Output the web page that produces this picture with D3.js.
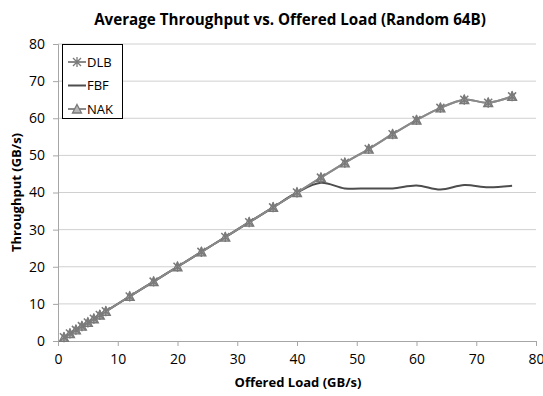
<!DOCTYPE html>
<html>
<head>
<meta charset="utf-8">
<script src="https://cdn.jsdelivr.net/npm/d3@7"></script>
<style>
  body { margin: 0; background: #fff; }
  text { font-family: "Open Sans", sans-serif; }
</style>
</head>
<body>
<script>
// offered load (x) for every sample
const load = [1, 2, 3, 4, 5, 6, 7, 8, 12, 16, 20, 24, 28, 32, 36, 40, 44, 48, 52, 56, 60, 64, 68, 72, 76];
const dlb = [1, 2, 3, 4, 5, 6, 7, 8, 12, 16, 20, 24, 28, 32, 36, 40, 44, 48, 51.7, 55.7, 59.5, 62.8, 65, 64.2, 65.9];
const fbf = [1, 2, 3, 4, 5, 6, 7, 8, 12, 16, 20, 24, 28, 32, 36, 40, 42.6, 41.1, 41.1, 41.1, 41.9, 40.8, 42, 41.4, 41.8];
const nak = [1, 2, 3, 4, 5, 6, 7, 8, 12, 16, 20, 24, 28, 32, 36, 40, 44, 48, 51.7, 55.7, 59.5, 62.8, 65, 64.2, 65.9];
const xTicks = [0, 10, 20, 30, 40, 50, 60, 70, 80];
const yTicks = [0, 10, 20, 30, 40, 50, 60, 70, 80];

const width = 543;
const height = 396;
const margin = { left: 58, right: 7, top: 44, bottom: 55 };

const svg = d3.select("body").append("svg").attr("width", width).attr("height", height);

const x = d3.scaleLinear().domain([0, 80]).range([margin.left, width - margin.right]);
const y = d3.scaleLinear().domain([0, 80]).range([height - margin.bottom, margin.top]);

// grid
svg.append("g")
  .selectAll("line")
  .data(yTicks.filter(d => d > 0))
  .enter()
  .append("line")
  .attr("x1", x(0)).attr("x2", x(80))
  .attr("y1", d => y(d)).attr("y2", d => y(d))
  .attr("stroke", "#d0d0d0").attr("stroke-width", 1);

// axes
const axisx = d3.axisBottom(x).tickValues(xTicks).tickSize(5).tickPadding(8);
const axisy = d3.axisLeft(y).tickValues(yTicks).tickSize(5).tickPadding(8);

const gx = svg.append("g").attr("transform", "translate(0," + y(0) + ")").call(axisx);
const gy = svg.append("g").attr("transform", "translate(" + x(0) + ",0)").call(axisy);
[gx, gy].forEach(g => {
  g.select(".domain").attr("stroke", "#a6a6a6");
  g.selectAll(".tick line").attr("stroke", "#a6a6a6");
  g.selectAll(".tick text").attr("fill", "#000").style("font-size", "14px").style("font-family", "'Open Sans', sans-serif");
});

// lines (Excel smoothed lines)
const line = d3.line()
  .x((d, i) => x(load[i]))
  .y(d => y(d))
  .curve(d3.curveCatmullRom.alpha(0.5));

svg.append("path").datum(dlb).attr("d", line)
  .attr("fill", "none").attr("stroke", "#8a8a8a").attr("stroke-width", 2);
svg.append("path").datum(fbf).attr("d", line)
  .attr("fill", "none").attr("stroke", "#4d4d4d").attr("stroke-width", 2);
svg.append("path").datum(nak).attr("d", line)
  .attr("fill", "none").attr("stroke", "#8a8a8a").attr("stroke-width", 2);

const star = "M-4,-4L4,4M-4,4L4,-4M0,-5L0,5";
const tri = "M0,-4.5L4.5,4L-4.5,4Z";

svg.append("g").selectAll("path")
  .data(nak).enter().append("path")
  .attr("transform", (d, i) => "translate(" + x(load[i]) + "," + y(d) + ")")
  .attr("d", tri).attr("fill", "#b8b8b8").attr("stroke", "#7a7a7a").attr("stroke-width", 1.3);

svg.append("g").selectAll("path")
  .data(dlb).enter().append("path")
  .attr("transform", (d, i) => "translate(" + x(load[i]) + "," + y(d) + ")")
  .attr("d", star).attr("fill", "none").attr("stroke", "#7a7a7a").attr("stroke-width", 1.5);

// legend
const legend = svg.append("g");
legend.append("rect").attr("x", 62.5).attr("y", 44.5).attr("width", 60).attr("height", 74)
  .attr("fill", "#fff").attr("stroke", "#000").attr("stroke-width", 1);
const items = [
  { name: "DLB", color: "#8a8a8a", mark: star },
  { name: "FBF", color: "#4d4d4d", mark: null },
  { name: "NAK", color: "#8a8a8a", mark: tri }
];
items.forEach((it, i) => {
  const ly = 62 + i * 23.5;
  legend.append("line").attr("x1", 68).attr("x2", 86).attr("y1", ly).attr("y2", ly)
    .attr("stroke", it.color).attr("stroke-width", 2);
  if (it.mark) {
    legend.append("path").attr("transform", "translate(77," + ly + ")").attr("d", it.mark)
      .attr("fill", it.mark === tri ? "#b8b8b8" : "none").attr("stroke", "#7a7a7a").attr("stroke-width", 1.3);
  }
  legend.append("text").attr("x", 87).attr("y", ly).attr("dy", "0.35em")
    .style("font-size", "13px").text(it.name);
});

// titles
svg.append("text").attr("x", 290).attr("y", 25).attr("text-anchor", "middle")
  .style("font-size", "15.2px").style("font-weight", "bold")
  .text("Average Throughput vs. Offered Load (Random 64B)");
svg.append("text").attr("x", 298).attr("y", 387).attr("text-anchor", "middle")
  .style("font-size", "13px").style("font-weight", "bold")
  .text("Offered Load (GB/s)");
svg.append("text").attr("transform", "translate(21," + y(40) + ") rotate(-90)").attr("text-anchor", "middle")
  .style("font-size", "13px").style("font-weight", "bold")
  .text("Throughput (GB/s)");
</script>
</body>
</html>
